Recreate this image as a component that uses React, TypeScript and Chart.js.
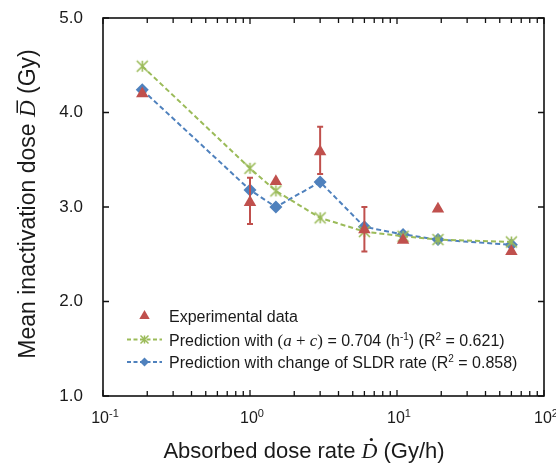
import React, { useEffect, useRef } from 'react';
import { Chart, registerables } from 'chart.js';

Chart.register(...registerables);

// ---- data ----
const xValues = [0.185, 1, 1.5, 3, 6, 11, 19, 60];
const expValues = [4.2, 3.05, 3.27, 3.585, 2.76, 2.65, 2.98, 2.53];
const expErrHigh: (number | null)[] = [null, 3.31, null, 3.85, 3.0, null, null, null];
const expErrLow: (number | null)[] = [null, 2.82, null, 3.35, 2.53, null, null, null];
const acValues = [4.49, 3.41, 3.17, 2.885, 2.74, 2.69, 2.655, 2.63];
const sldrValues = [4.24, 3.18, 3.0, 3.265, 2.79, 2.71, 2.655, 2.6];

const yTickValues = [1, 2, 3, 4, 5];
const xTickValues = [0.1, 1, 10, 100];
const xTickExponents = ['-1', '0', '1', '2'];
const xMinorTicks = [0.2, 0.3, 0.4, 0.5, 0.6, 0.7, 0.8, 0.9, 2, 3, 4, 5, 6, 7, 8, 9, 20, 30, 40, 50, 60, 70, 80, 90];

const RED = '#C0504D';
const GREEN = '#9BBB59';
const BLUE = '#4F81BD';
const SANS = '"Liberation Sans", Arial, sans-serif';
const SERIF = '"Liberation Serif", "DejaVu Serif", serif';
const TEXT = '#1a1a1a';

type Seg = { t: string; f: string; dy?: number; deco?: 'bar' | 'dot' };

function drawRich(ctx: CanvasRenderingContext2D, segs: Seg[], x: number, y: number, align: 'left' | 'center') {
  ctx.textBaseline = 'alphabetic';
  ctx.textAlign = 'left';
  let w = 0;
  for (const s of segs) {
    ctx.font = s.f;
    w += ctx.measureText(s.t).width;
  }
  let cx = align === 'center' ? x - w / 2 : x;
  for (const s of segs) {
    ctx.font = s.f;
    const sw = ctx.measureText(s.t).width;
    ctx.fillText(s.t, cx, y + (s.dy || 0));
    if (s.deco === 'bar') {
      ctx.fillRect(cx + sw * 0.25, y - 18.5, sw * 0.75, 1.5);
    } else if (s.deco === 'dot') {
      ctx.beginPath();
      ctx.arc(cx + sw * 0.62, y - 18.5, 1.6, 0, Math.PI * 2);
      ctx.fill();
    }
    cx += sw;
  }
}

function makeStar(color: string, r: number, lw: number) {
  const c = document.createElement('canvas');
  const s = Math.ceil(2 * r + lw + 2);
  c.width = s;
  c.height = s;
  const g = c.getContext('2d')!;
  g.strokeStyle = color;
  g.lineWidth = lw;
  const m = s / 2;
  g.beginPath();
  g.moveTo(m - r, m - r); g.lineTo(m + r, m + r);
  g.moveTo(m - r, m + r); g.lineTo(m + r, m - r);
  g.moveTo(m, m - r); g.lineTo(m, m + r);
  g.stroke();
  return c;
}

function drawTriangle(ctx: CanvasRenderingContext2D, x: number, y: number, r: number) {
  ctx.beginPath();
  ctx.moveTo(x, y - r);
  ctx.lineTo(x + r * 0.866, y + r * 0.5);
  ctx.lineTo(x - r * 0.866, y + r * 0.5);
  ctx.closePath();
  ctx.fill();
}
function drawDiamond(ctx: CanvasRenderingContext2D, x: number, y: number, r: number) {
  ctx.beginPath();
  ctx.moveTo(x, y - r);
  ctx.lineTo(x + r, y);
  ctx.lineTo(x, y + r);
  ctx.lineTo(x - r, y);
  ctx.closePath();
  ctx.fill();
}

const decorPlugin = {
  id: 'decor',
  afterDatasetsDraw(chart: any) {
    const ctx: CanvasRenderingContext2D = chart.ctx;
    const xs = chart.scales.x;
    const ys = chart.scales.y;
    ctx.save();
    ctx.strokeStyle = RED;
    ctx.lineWidth = 2;
    for (let i = 0; i < xValues.length; i++) {
      const hi = expErrHigh[i];
      const lo = expErrLow[i];
      if (hi == null || lo == null) continue;
      const px = xs.getPixelForValue(xValues[i]);
      const py1 = ys.getPixelForValue(hi);
      const py2 = ys.getPixelForValue(lo);
      ctx.beginPath();
      ctx.moveTo(px, py1); ctx.lineTo(px, py2);
      ctx.moveTo(px - 3, py1); ctx.lineTo(px + 3, py1);
      ctx.moveTo(px - 3, py2); ctx.lineTo(px + 3, py2);
      ctx.stroke();
    }
    ctx.restore();
  },
  afterDraw(chart: any) {
    const ctx: CanvasRenderingContext2D = chart.ctx;
    const xs = chart.scales.x;
    const ys = chart.scales.y;
    const a = chart.chartArea;
    ctx.save();
    ctx.strokeStyle = '#111';
    ctx.lineWidth = 1.6;
    ctx.strokeRect(a.left, a.top, a.right - a.left, a.bottom - a.top);
    ctx.lineWidth = 1.3;
    ctx.beginPath();
    for (const v of yTickValues) {
      const py = ys.getPixelForValue(v);
      ctx.moveTo(a.left, py); ctx.lineTo(a.left + 6, py);
      ctx.moveTo(a.right, py); ctx.lineTo(a.right - 6, py);
    }
    for (const v of xTickValues) {
      const px = xs.getPixelForValue(v);
      ctx.moveTo(px, a.bottom); ctx.lineTo(px, a.bottom - 6);
      ctx.moveTo(px, a.top); ctx.lineTo(px, a.top + 6);
    }
    for (const v of xMinorTicks) {
      const px = xs.getPixelForValue(v);
      ctx.moveTo(px, a.bottom); ctx.lineTo(px, a.bottom - 5);
      ctx.moveTo(px, a.top); ctx.lineTo(px, a.top + 5);
    }
    ctx.stroke();

    ctx.fillStyle = TEXT;
    xTickValues.forEach((v, i) => {
      const px = xs.getPixelForValue(v);
      drawRich(ctx, [
        { t: '10', f: `16px ${SANS}` },
        { t: xTickExponents[i], f: `11px ${SANS}`, dy: -6 },
      ], px + 2, 423, 'center');
    });

    drawRich(ctx, [
      { t: 'Absorbed dose rate ', f: `22px ${SANS}` },
      { t: 'D', f: `italic 22px ${SERIF}`, deco: 'dot' },
      { t: ' (Gy/h)', f: `22px ${SANS}` },
    ], 304, 458, 'center');

    ctx.save();
    ctx.translate(27, 204);
    ctx.rotate(-Math.PI / 2);
    drawRich(ctx, [
      { t: 'Mean inactivation dose ', f: `23px ${SANS}` },
      { t: 'D', f: `italic 23px ${SERIF}`, deco: 'bar' },
      { t: ' (Gy)', f: `23px ${SANS}` },
    ], 0, 8, 'center');
    ctx.restore();

    // legend
    const lx0 = 127, lx1 = 162, mx = 144.5, tx = 169;
    const rows = [316, 339.5, 362];
    ctx.fillStyle = RED;
    drawTriangle(ctx, mx, rows[0], 6);
    ctx.strokeStyle = GREEN;
    ctx.lineWidth = 2;
    ctx.setLineDash([4, 2.5]);
    ctx.beginPath(); ctx.moveTo(lx0, rows[1]); ctx.lineTo(lx1, rows[1]); ctx.stroke();
    ctx.strokeStyle = BLUE;
    ctx.beginPath(); ctx.moveTo(lx0, rows[2]); ctx.lineTo(lx1, rows[2]); ctx.stroke();
    ctx.setLineDash([]);
    ctx.strokeStyle = GREEN;
    ctx.lineWidth = 1.5;
    const r = 4;
    ctx.beginPath();
    ctx.moveTo(mx - r, rows[1] - r); ctx.lineTo(mx + r, rows[1] + r);
    ctx.moveTo(mx - r, rows[1] + r); ctx.lineTo(mx + r, rows[1] - r);
    ctx.moveTo(mx, rows[1] - r); ctx.lineTo(mx, rows[1] + r);
    ctx.stroke();
    ctx.fillStyle = BLUE;
    drawDiamond(ctx, mx, rows[2], 4.5);

    ctx.fillStyle = TEXT;
    const F = `16px ${SANS}`;
    const FS = `10px ${SANS}`;
    const FM = `italic 17px ${SERIF}`;
    const FMR = `17px ${SERIF}`;
    drawRich(ctx, [{ t: 'Experimental data', f: F }], tx, rows[0] + 6, 'left');
    drawRich(ctx, [
      { t: 'Prediction with ', f: F },
      { t: '(', f: FMR },
      { t: 'a', f: FM },
      { t: ' + ', f: FMR },
      { t: 'c', f: FM },
      { t: ')', f: FMR },
      { t: ' = 0.704 (h', f: F },
      { t: '-1', f: FS, dy: -6 },
      { t: ') (R', f: F },
      { t: '2', f: FS, dy: -6 },
      { t: ' = 0.621)', f: F },
    ], tx, rows[1] + 6, 'left');
    drawRich(ctx, [
      { t: 'Prediction with change of SLDR rate (R', f: F },
      { t: '2', f: FS, dy: -6 },
      { t: ' = 0.858)', f: F },
    ], tx, rows[2] + 6, 'left');
    ctx.restore();
  },
};

export default function App() {
  const ref = useRef<HTMLCanvasElement | null>(null);
  useEffect(() => {
    if (!ref.current) return;
    const star = makeStar(GREEN, 5.5, 1.6);
    const chart = new Chart(ref.current, {
      type: 'scatter',
      data: {
        datasets: [
          {
            label: 'Experimental data',
            data: xValues.map((x, i) => ({ x, y: expValues[i] })),
            showLine: false,
            pointStyle: 'triangle',
            pointRadius: 7.2,
            backgroundColor: RED,
            borderColor: RED,
            borderWidth: 0,
          },
          {
            label: 'Prediction with (a + c) = 0.704 (h-1) (R2 = 0.621)',
            data: xValues.map((x, i) => ({ x, y: acValues[i] })),
            showLine: true,
            borderColor: GREEN,
            backgroundColor: GREEN,
            borderWidth: 2,
            borderDash: [5, 3],
            pointStyle: star as any,
            pointRadius: 5.5,
          },
          {
            label: 'Prediction with change of SLDR rate (R2 = 0.858)',
            data: xValues.map((x, i) => ({ x, y: sldrValues[i] })),
            showLine: true,
            borderColor: BLUE,
            backgroundColor: BLUE,
            borderWidth: 2,
            borderDash: [5, 3],
            pointStyle: 'rectRot',
            pointRadius: 6.5,
            pointBorderWidth: 0,
          },
        ],
      },
      options: {
        animation: false,
        responsive: true,
        maintainAspectRatio: false,
        layout: { padding: { top: 18, right: 12, left: 0, bottom: 0 } },
        plugins: { legend: { display: false }, tooltip: { enabled: false } },
        scales: {
          x: {
            type: 'logarithmic',
            min: 0.1,
            max: 100,
            grid: { display: false, drawTicks: false, tickLength: 0 },
            border: { display: false },
            ticks: { display: false },
            afterFit: (s: any) => {
              s.height = 72;
              s.paddingLeft = 0;
              s.paddingRight = 0;
            },
          },
          y: {
            type: 'linear',
            min: 1,
            max: 5,
            grid: { display: false, drawTicks: false, tickLength: 0 },
            border: { display: false },
            ticks: {
              stepSize: 1,
              padding: 20,
              color: TEXT,
              font: { family: SANS, size: 17 },
              callback: (v: any) => Number(v).toFixed(1),
            },
            afterFit: (s: any) => {
              s.width = 103;
              s.paddingTop = 0;
              s.paddingBottom = 0;
            },
          },
        },
      },
      plugins: [decorPlugin],
    });
    return () => chart.destroy();
  }, []);
  return (
    <div style={{ position: 'fixed', left: 0, top: 0, width: 556, height: 468 }}>
      <canvas ref={ref} />
    </div>
  );
}
